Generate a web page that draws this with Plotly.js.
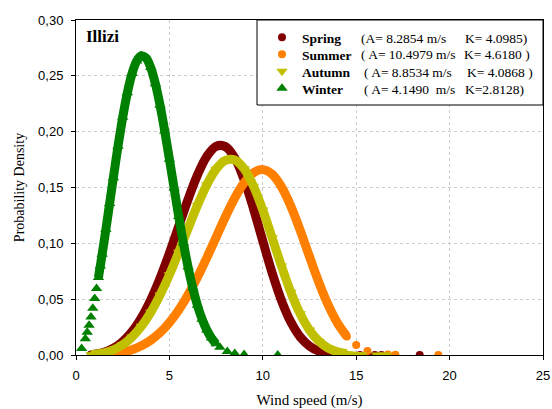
<!DOCTYPE html>
<html>
<head>
<meta charset="utf-8">
<script src="https://cdn.plot.ly/plotly-3.0.1.min.js"></script>
<style>html,body{margin:0;padding:0;background:#fff;}#chart{width:552px;height:409px;}</style>
</head>
<body>
<div id="chart"></div>
<script>
// ---- data (wind speed m/s, probability density) ----
const seasons = ["Spring", "Summer", "Autumn", "Winter"];
const paramA = ["(A= 8.2854 m/s", "( A= 10.4979 m/s", "( A= 8.8534 m/s", "( A= 4.1490\u00a0\u00a0m/s"];
const paramK = ["K= 4.0985)", "K= 4.6180 )", "K= 4.0868 )", "K=2.8128)"];

const springX = [0.8, 1, 1.5, 2, 2.5, 3, 3.5, 4, 4.5, 5, 5.5, 6, 6.5, 7, 7.5, 8, 8.5, 9, 9.5, 10, 10.5, 11, 11.5, 12, 12.5, 13, 13.5, 14];
const springY = [0.0004, 0.0007, 0.0025, 0.0060, 0.0120, 0.0209, 0.0333, 0.0493, 0.0688, 0.0912, 0.1153, 0.1394, 0.1611, 0.1778, 0.1869, 0.1866, 0.1764, 0.1570, 0.1311, 0.1020, 0.0735, 0.0488, 0.0296, 0.0162, 0.0080, 0.0035, 0.0014, 0.0005];
const springPtsX = [14.5, 15.2, 15.6, 16.0, 16.35, 18.4];
const springPtsY = [0.0001, 0.0000, 0.0000, 0.0000, 0.0000, 0.0000];

const summerX = [2, 2.5, 3, 3.5, 4, 4.5, 5, 5.5, 6, 6.5, 7, 7.5, 8, 8.5, 9, 9.5, 10, 10.5, 11, 11.5, 12, 12.5, 13, 13.5, 14, 14.5];
const summerY = [0.0011, 0.0024, 0.0047, 0.0082, 0.0132, 0.0201, 0.0291, 0.0403, 0.0539, 0.0696, 0.0870, 0.1054, 0.1238, 0.1406, 0.1542, 0.1632, 0.1660, 0.1618, 0.1506, 0.1333, 0.1117, 0.0881, 0.0651, 0.0448, 0.0285, 0.0166];
const summerPtsX = [15.0, 15.6, 16.7, 17.1, 19.4];
const summerPtsY = [0.0089, 0.0036, 0.0005, 0.0002, 0.0000];

const autumnX = [0.8, 1, 1.5, 2, 2.5, 3, 3.5, 4, 4.5, 5, 5.5, 6, 6.5, 7, 7.5, 8, 8.5, 9, 9.5, 10, 10.5, 11, 11.5, 12, 12.5, 13, 13.5, 14, 14.5];
const autumnY = [0.0003, 0.0006, 0.0019, 0.0047, 0.0093, 0.0162, 0.0257, 0.0382, 0.0537, 0.0718, 0.0921, 0.1133, 0.1340, 0.1524, 0.1665, 0.1743, 0.1746, 0.1667, 0.1512, 0.1298, 0.1049, 0.0796, 0.0562, 0.0369, 0.0223, 0.0124, 0.0062, 0.0028, 0.0012];
const autumnPtsX = [14.7, 15.0, 15.3, 16.1, 16.4, 16.6];
const autumnPtsY = [0.0008, 0.0005, 0.0003, 0.0001, 0.0000, 0.0000];

const winterX = [1.2, 1.3, 1.4, 1.6, 1.8, 2, 2.25, 2.5, 2.75, 3, 3.25, 3.5, 3.75, 4, 4.25, 4.5, 4.75, 5, 5.25, 5.5, 5.75, 6, 6.25, 6.5, 6.75, 7, 7.25, 7.5];
const winterY = [0.0694, 0.0796, 0.0902, 0.1125, 0.1356, 0.1588, 0.1870, 0.2128, 0.2349, 0.2520, 0.2633, 0.2680, 0.2660, 0.2574, 0.2429, 0.2236, 0.2006, 0.1754, 0.1495, 0.1241, 0.1002, 0.0787, 0.0601, 0.0446, 0.0321, 0.0225, 0.0153, 0.0100];
const winterPtsX = [0.3, 0.5, 0.6, 0.7, 0.8, 0.9, 1.0, 1.1, 7.7, 8.1, 8.5, 9.0, 10.8];
const winterPtsY = [0.0058, 0.0146, 0.0203, 0.0267, 0.0340, 0.0419, 0.0505, 0.0596, 0.0070, 0.0032, 0.0014, 0.0004, 0.0000];

// ---- styles ----
const colors = ["#800000", "#FF8000", "#C0C000", "#008000"];
const symbols = ["circle", "circle", "triangle-down", "triangle-up"];
const msize = [8, 8, 10, 10];
const bodies = [[springX, springY], [summerX, summerY], [autumnX, autumnY], [winterX, winterY]];
const points = [[springPtsX, springPtsY], [summerPtsX, summerPtsY], [autumnPtsX, autumnPtsY], [winterPtsX, winterPtsY]];
const legendIds = ["legend", "legend2", "legend3", "legend4"];

const SERIF = "Liberation Serif, Times New Roman, serif";
const SANS = "Liberation Sans, Arial, sans-serif";

const traces = [];
seasons.forEach((s, i) => {
  traces.push({
    x: bodies[i][0], y: bodies[i][1], type: "scatter", mode: "lines+markers",
    line: {color: colors[i], width: 9, shape: "spline", smoothing: 1},
    marker: {color: colors[i], symbol: symbols[i], size: msize[i]},
    legendgroup: s, showlegend: false, name: s
  });
  traces.push({
    x: points[i][0], y: points[i][1], type: "scatter", mode: "markers",
    marker: {color: colors[i], symbol: symbols[i], size: msize[i]},
    legendgroup: s, showlegend: true, legend: legendIds[i], name: "<b>" + s + "</b>"
  });
});

const L = 76, R = 543, T = 20, B = 355;
const px = v => (v - L) / (R - L);
const py = v => (B - v) / (B - T);
const rowY = [38, 55, 72, 89];
const aX = [359, 359, 362, 362];
const kX = [463, 462, 465, 463];

const annotations = [{
  text: "<b>Illizi</b>", xref: "paper", yref: "paper", x: px(84), y: py(37),
  xanchor: "left", yanchor: "middle", showarrow: false,
  font: {family: SERIF, size: 17, color: "#000"}
}];
seasons.forEach((s, i) => {
  annotations.push({text: paramA[i], xref: "paper", yref: "paper", x: px(aX[i]), y: py(rowY[i]),
    xanchor: "left", yanchor: "middle", showarrow: false,
    font: {family: SERIF, size: 13.5, color: "#000"}});
  annotations.push({text: paramK[i], xref: "paper", yref: "paper", x: px(kX[i]), y: py(rowY[i]),
    xanchor: "left", yanchor: "middle", showarrow: false,
    font: {family: SERIF, size: 13.5, color: "#000"}});
});

const layout = {
  width: 552, height: 409,
  margin: {l: L, r: 552 - R, t: T, b: 409 - B},
  paper_bgcolor: "#fff", plot_bgcolor: "#fff",
  separators: ",.",
  font: {family: SANS, size: 13, color: "#000"},
  xaxis: {
    range: [0, 25], dtick: 5, tick0: 0, ticks: "outside", ticklen: 4, tickcolor: "#000",
    showline: true, linecolor: "#000", linewidth: 1, mirror: true,
    showgrid: true, gridcolor: "#cccccc", griddash: "dot", gridwidth: 1, zeroline: false,
    ticklabelstandoff: 4,
    tickfont: {family: SANS, size: 13, color: "#000"},
    title: {text: "Wind speed (m/s)", standoff: 15, font: {family: SERIF, size: 15, color: "#000"}},
    automargin: false
  },
  yaxis: {
    range: [0, 0.30], dtick: 0.05, tick0: 0, tickformat: ".2f", ticks: "outside", ticklen: 4, tickcolor: "#000",
    showline: true, linecolor: "#000", linewidth: 1, mirror: true,
    showgrid: true, gridcolor: "#cccccc", griddash: "dot", gridwidth: 1, zeroline: false,
    ticklabelstandoff: 5,
    tickfont: {family: SANS, size: 13, color: "#000"},
    title: {text: "Probability Density", standoff: 10, font: {family: SERIF, size: 14, color: "#000"}},
    automargin: false
  },
  showlegend: true,
  shapes: [{
    type: "rect", xref: "paper", yref: "paper", x0: px(257), x1: 1, y0: py(105), y1: 1,
    line: {color: "#000", width: 1}, fillcolor: "#fff", layer: "above"
  }],
  annotations: annotations
};
legendIds.forEach((id, i) => {
  layout[id] = {
    x: px(262), y: py(rowY[i] - 16), xanchor: "left", yanchor: "top",
    bgcolor: "rgba(0,0,0,0)", borderwidth: 0,
    font: {family: SERIF, size: 13.5, color: "#000"}
  };
});

Plotly.newPlot("chart", traces, layout, {displayModeBar: false, staticPlot: true});
</script>
</body>
</html>
